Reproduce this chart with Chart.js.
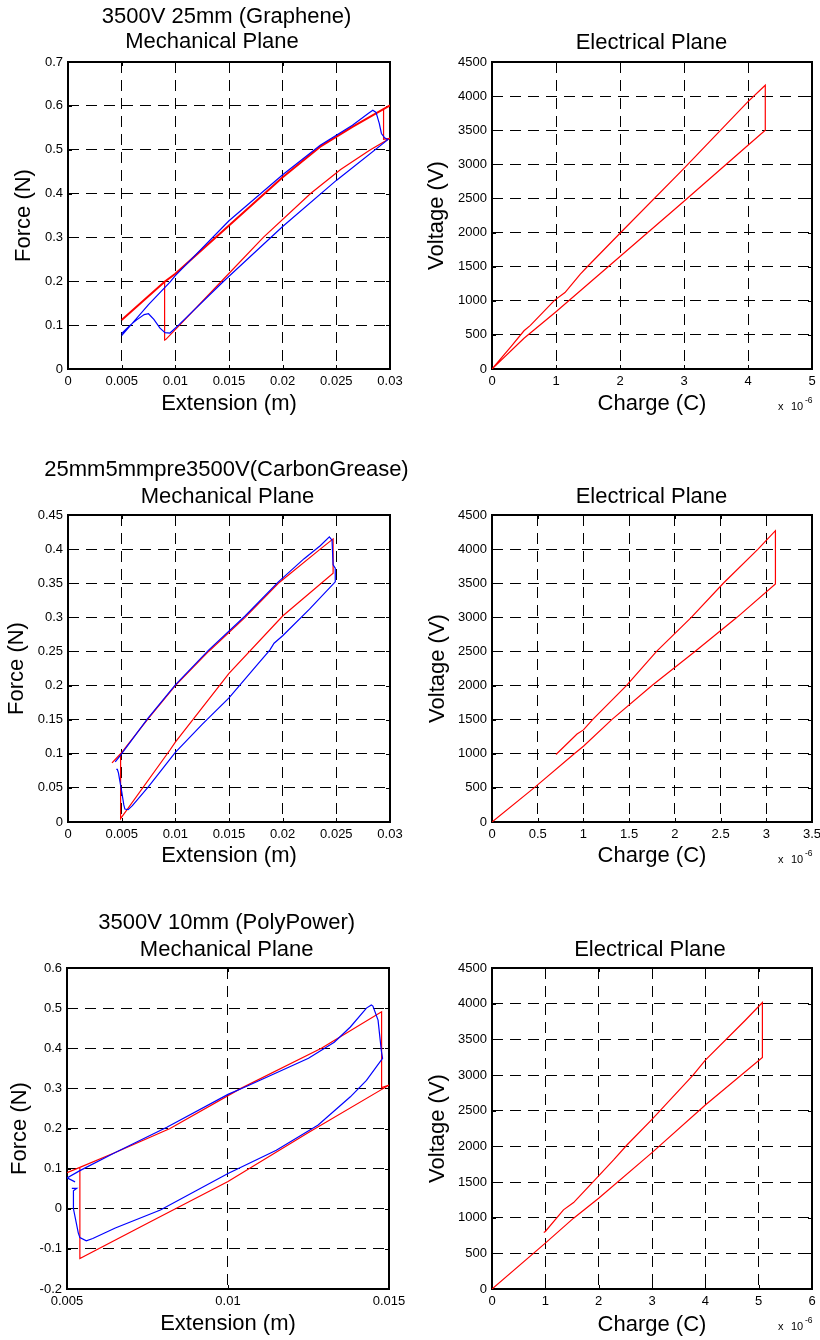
<!DOCTYPE html>
<html>
<head>
<meta charset="utf-8">
<script src="https://cdn.jsdelivr.net/npm/chart.js@4.4.1/dist/chart.umd.min.js"></script>
<style>
html,body{margin:0;padding:0;background:#fff;overflow:hidden;}
#wrap{position:relative;width:820px;height:1340px;overflow:hidden;background:#fff;}
canvas{position:absolute;}
</style>
</head>
<body>
<div id="wrap">
<canvas id="p1" width="430" height="430" style="left:0px;top:0px"></canvas>
<canvas id="p2" width="430" height="430" style="left:410px;top:0px"></canvas>
<canvas id="p3" width="430" height="450" style="left:0px;top:430px"></canvas>
<canvas id="p4" width="430" height="450" style="left:410px;top:430px"></canvas>
<canvas id="p5" width="430" height="460" style="left:0px;top:880px"></canvas>
<canvas id="p6" width="430" height="460" style="left:410px;top:880px"></canvas>
</div>
<script>
// ---------------- DATA ----------------
// Panel 1 : 3500V 25mm (Graphene) - Mechanical plane (Extension m, Force N)
const grapheneExpExtension = [0.0050,0.0075,0.0095,0.0100,0.0150,0.0200,0.0235,0.0265,0.0280,0.0284,0.0287,0.0290,0.0292,0.0295,0.0298,0.0250,0.0200,0.0145,0.0103,0.0095,0.00904,0.00857,0.0080,0.0075,0.0071,0.0064,0.0058,0.0050];
const grapheneExpForce     = [0.076,0.147,0.198,0.213,0.338,0.443,0.510,0.556,0.583,0.590,0.585,0.560,0.537,0.527,0.523,0.430,0.325,0.200,0.100,0.082,0.083,0.093,0.113,0.126,0.124,0.112,0.100,0.081];
const grapheneModelUpperExtension = [0.0050,0.0090,0.0100,0.0150,0.0200,0.0235,0.0265,0.0300];
const grapheneModelUpperForce     = [0.112,0.199,0.217,0.327,0.437,0.507,0.552,0.601];
const grapheneModelLoopExtension = [0.0090,0.0090,0.0091,0.0104,0.0143,0.0182,0.0226,0.0254,0.0281,0.0300,0.0294,0.0294];
const grapheneModelLoopForce     = [0.199,0.066,0.067,0.100,0.200,0.300,0.400,0.455,0.499,0.526,0.524,0.594];

// Panel 2 : Graphene - Electrical plane (Charge x1e-6 C, Voltage V)
const grapheneCharge  = [0,0.50,1.00,2.00,3.00,4.00,4.27,4.27,4.00,3.00,2.00,1.50,1.38,1.14,0.98,0.60,0.50,0.30,0];
const grapheneVoltage = [0,450,840,1650,2460,3280,3500,4160,3920,2940,1990,1510,1390,1120,1010,640,560,330,0];

// Panel 3 : 25mm5mmpre3500V (CarbonGrease) - Mechanical plane
const carbonExpExtension = [0.0044,0.0049,0.0074,0.0100,0.0131,0.0165,0.0196,0.0220,0.0235,0.02435,0.0246,0.0247,0.0249,0.0249,0.0225,0.0200,0.0192,0.0188,0.0175,0.0150,0.0125,0.0100,0.0075,0.0060,0.0056,0.0053,0.0052,0.0050,0.0047,0.0046,0.0045];
const carbonExpForce     = [0.088,0.098,0.151,0.201,0.252,0.302,0.352,0.386,0.405,0.418,0.413,0.377,0.372,0.352,0.312,0.273,0.262,0.252,0.228,0.182,0.143,0.102,0.052,0.024,0.018,0.019,0.025,0.045,0.072,0.077,0.077];
const carbonModelExtension = [0.0041,0.0049,0.0074,0.0100,0.0131,0.0165,0.0196,0.0235,0.0247,0.0247,0.0200,0.0150,0.0100,0.0095,0.0049,0.0049];
const carbonModelForce     = [0.0866,0.100,0.150,0.200,0.250,0.300,0.350,0.400,0.415,0.3645,0.302,0.218,0.117,0.1055,0.005,0.101];

// Panel 4 : CarbonGrease - Electrical plane
const carbonCharge  = [0,0.46,0.90,1.00,1.31,1.75,2.22,2.68,3.10,3.10,2.91,2.53,2.18,1.80,1.47,1.10,1.00,0.93,0.70];
const carbonVoltage = [0,500,1000,1110,1500,2000,2500,3000,3490,4270,4000,3500,3000,2500,2000,1500,1350,1290,990];

// Panel 5 : 3500V 10mm (PolyPower) - Mechanical plane
const polyExpExtension = [0.00515,0.0053,0.0052,0.0052,0.00535,0.0054,0.0056,0.0058,0.0065,0.0079,0.0100,0.0115,0.0128,0.0138,0.0143,0.0148,0.01476,0.01466,0.0145,0.01445,0.0143,0.0138,0.0133,0.0125,0.0106,0.0100,0.0081,0.0065,0.0054,0.0050,0.00525];
const polyExpForce     = [0.051,0.051,0.045,0.000,-0.060,-0.072,-0.080,-0.074,-0.048,-0.003,0.088,0.146,0.209,0.279,0.320,0.375,0.395,0.470,0.505,0.508,0.500,0.453,0.415,0.375,0.306,0.285,0.203,0.140,0.095,0.077,0.067];
const polyModelExtension = [0.0054,0.0054,0.0075,0.0100,0.0125,0.0150,0.01477,0.01477,0.0129,0.0104,0.0082,0.0065,0.0054,0.0050];
const polyModelForce     = [0.103,-0.124,-0.036,0.068,0.190,0.308,0.302,0.491,0.400,0.300,0.200,0.140,0.103,0.090];

// Panel 6 : PolyPower - Electrical plane
const polyCharge  = [0,1.00,1.53,2.00,3.00,4.00,5.07,5.07,4.75,4.00,3.77,3.00,2.53,2.28,2.00,1.53,1.34,1.00,0.97];
const polyVoltage = [0,643,993,1273,1912,2579,3245,4015,3768,3208,2998,2378,2019,1809,1585,1212,1110,807,793];

// ---------------- RENDER ----------------
const FONT = '"Liberation Sans", Arial, Helvetica, sans-serif';
Chart.defaults.font.family = FONT;
Chart.defaults.color = '#000';
const pts = (xs, ys) => xs.map((x, i) => ({x: x, y: ys[i]}));
const fmt = v => String(Number(Number(v).toFixed(6)));
const RED = '#ff0000', BLUE = '#0000ff';

const decor = {
  id: 'decor',
  beforeDatasetsDraw(chart) {
    const {ctx, chartArea: a} = chart;
    const xs = chart.scales.x, ys = chart.scales.y;
    ctx.save();
    ctx.strokeStyle = '#000';
    ctx.lineWidth = 1;
    ctx.beginPath();
    xs.ticks.forEach(t => {
      const p = Math.round(xs.getPixelForValue(t.value)) + 0.5;
      ctx.moveTo(p, a.bottom); ctx.lineTo(p, a.bottom - 4);
      ctx.moveTo(p, a.top); ctx.lineTo(p, a.top + 4);
    });
    ys.ticks.forEach(t => {
      const p = Math.round(ys.getPixelForValue(t.value)) + 0.5;
      ctx.moveTo(a.left, p); ctx.lineTo(a.left + 4, p);
      ctx.moveTo(a.right, p); ctx.lineTo(a.right - 4, p);
    });
    ctx.stroke();
    ctx.lineWidth = 2;
    ctx.strokeRect(Math.round(a.left), Math.round(a.top), Math.round(a.right - a.left), Math.round(a.bottom - a.top));
    ctx.restore();
  },
  afterDraw(chart, args, opts) {
    const {ctx, chartArea: a} = chart;
    ctx.save();
    ctx.fillStyle = '#000';
    ctx.textBaseline = 'alphabetic';
    ctx.textAlign = 'center';
    ctx.font = '22px ' + FONT;
    (opts.lines || []).forEach(l => ctx.fillText(l.text, l.cx - opts.ox, l.base - opts.oy));
    if (opts.exponent) {
      ctx.textAlign = 'left';
      ctx.font = '11px ' + FONT;
      ctx.fillText('x', a.right - 34, a.bottom + 41);
      ctx.fillText('10', a.right - 21, a.bottom + 41);
      ctx.font = '8.5px ' + FONT;
      ctx.fillText('-6', a.right - 7, a.bottom + 34);
    }
    ctx.restore();
  }
};

function line(data, color, width) {
  return {data: data, borderColor: color, backgroundColor: color, borderWidth: width || 1.2,
          showLine: true, pointRadius: 0, fill: false, tension: 0};
}

function panel(id, box, area, xa, ya, lines, exponent, datasets) {
  const tickFont = {size: 13, family: FONT};
  const titleFont = {size: 22, family: FONT, lineHeight: 1.2};
  const gridCfg = {color: '#000', lineWidth: 1, drawTicks: false};
  const borderCfg = {display: false, dash: [11, 7]};
  new Chart(document.getElementById(id), {
    type: 'scatter',
    data: {datasets: datasets},
    plugins: [decor],
    options: {
      responsive: false, animation: false, devicePixelRatio: 1, events: [],
      layout: {padding: {left: 0, bottom: 0, top: area.top - box.top, right: box.left + box.width - area.right}},
      plugins: {legend: {display: false}, tooltip: {enabled: false},
                decor: {lines: lines, exponent: exponent, ox: box.left, oy: box.top}},
      scales: {
        x: {type: 'linear', position: 'bottom', min: xa.min, max: xa.max,
            ticks: {stepSize: xa.step, callback: fmt, padding: 5, font: tickFont, color: '#000', maxRotation: 0, autoSkip: false},
            grid: gridCfg, border: borderCfg,
            title: {display: true, text: xa.title, font: titleFont, color: '#000', padding: {top: 0, bottom: xa.pad}},
            afterFit: s => { s.height = box.top + box.height - area.bottom; }},
        y: {type: 'linear', position: 'left', min: ya.min, max: ya.max,
            ticks: {stepSize: ya.step, callback: fmt, padding: 5, font: tickFont, color: '#000', autoSkip: false},
            grid: gridCfg, border: borderCfg,
            title: {display: true, text: ya.title, font: titleFont, color: '#000', padding: {top: ya.pad, bottom: 0}},
            afterFit: s => { s.width = area.left - box.left; }}
      }
    }
  });
}

// Row 1
panel('p1', {left: 0, top: 0, width: 430, height: 430}, {left: 68, right: 390, top: 62, bottom: 369},
  {min: 0, max: 0.03, step: 0.005, title: 'Extension (m)', pad: 12.9},
  {min: 0, max: 0.7, step: 0.1, title: 'Force (N)', pad: 11.2},
  [{text: '3500V 25mm (Graphene)', cx: 226.5, base: 23.3}, {text: 'Mechanical Plane', cx: 212, base: 48.3}], false,
  [line(pts(grapheneExpExtension, grapheneExpForce), BLUE),
   line(pts(grapheneModelUpperExtension, grapheneModelUpperForce), RED, 2),
   line(pts(grapheneModelLoopExtension, grapheneModelLoopForce), RED)]);

panel('p2', {left: 410, top: 0, width: 430, height: 430}, {left: 492, right: 812, top: 62, bottom: 369},
  {min: 0, max: 5, step: 1, title: 'Charge (C)', pad: 12.5},
  {min: 0, max: 4500, step: 500, title: 'Voltage (V)', pad: 13.3},
  [{text: 'Electrical Plane', cx: 651.5, base: 48.8}], true,
  [line(pts(grapheneCharge, grapheneVoltage), RED)]);

// Row 2
panel('p3', {left: 0, top: 430, width: 430, height: 450}, {left: 68, right: 390, top: 515, bottom: 822},
  {min: 0, max: 0.03, step: 0.005, title: 'Extension (m)', pad: 11.1},
  {min: 0, max: 0.45, step: 0.05, title: 'Force (N)', pad: 3.3},
  [{text: '25mm5mmpre3500V(CarbonGrease)', cx: 226.5, base: 476}, {text: 'Mechanical Plane', cx: 227.5, base: 502.7}], false,
  [line(pts(carbonExpExtension, carbonExpForce), BLUE),
   line(pts(carbonModelExtension, carbonModelForce), RED)]);

panel('p4', {left: 410, top: 430, width: 430, height: 450}, {left: 492, right: 812, top: 515, bottom: 822},
  {min: 0, max: 3.5, step: 0.5, title: 'Charge (C)', pad: 11},
  {min: 0, max: 4500, step: 500, title: 'Voltage (V)', pad: 14.3},
  [{text: 'Electrical Plane', cx: 651.5, base: 502.7}], true,
  [line(pts(carbonCharge, carbonVoltage), RED)]);

// Row 3
panel('p5', {left: 0, top: 880, width: 430, height: 460}, {left: 67, right: 389, top: 968, bottom: 1289},
  {min: 0.005, max: 0.015, step: 0.005, title: 'Extension (m)', pad: 2.8},
  {min: -0.2, max: 0.6, step: 0.1, title: 'Force (N)', pad: 6.6},
  [{text: '3500V 10mm (PolyPower)', cx: 226.7, base: 929}, {text: 'Mechanical Plane', cx: 226.7, base: 955.7}], false,
  [line(pts(polyExpExtension, polyExpForce), BLUE),
   line(pts(polyModelExtension, polyModelForce), RED)]);

panel('p6', {left: 410, top: 880, width: 430, height: 460}, {left: 492, right: 812, top: 968, bottom: 1289},
  {min: 0, max: 6, step: 1, title: 'Charge (C)', pad: 2},
  {min: 0, max: 4500, step: 500, title: 'Voltage (V)', pad: 14.3},
  [{text: 'Electrical Plane', cx: 650, base: 956}], true,
  [line(pts(polyCharge, polyVoltage), RED)]);
</script>
</body>
</html>
